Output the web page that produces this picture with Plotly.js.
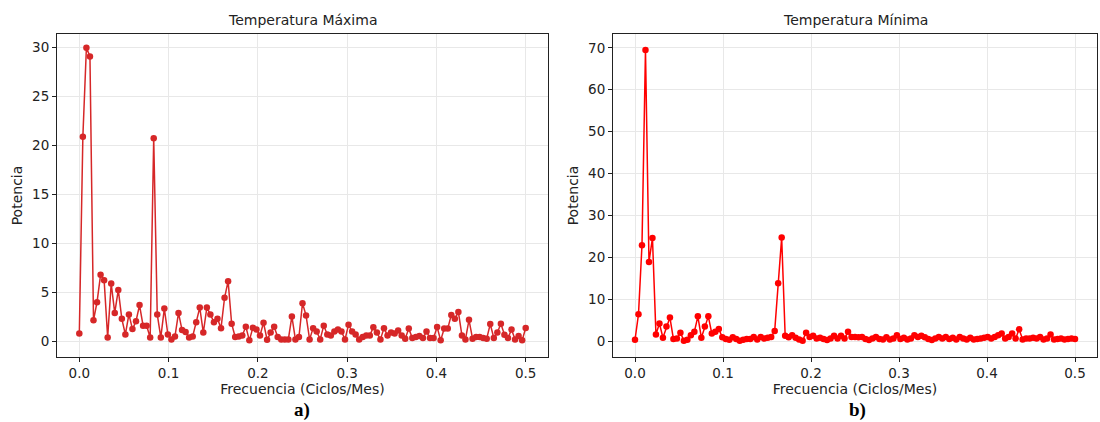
<!DOCTYPE html>
<html>
<head>
<meta charset="utf-8">
<script src="https://cdn.plot.ly/plotly-3.0.1.min.js"></script>
<style>html,body{margin:0;padding:0;background:#fff;}#chart{width:1100px;height:422px;}</style>
</head>
<body>
<div id="chart"></div>
<script>
// Number of samples of the series (frequencies k/N, k = 0..N/2)
const nSamples = 252;

// Power spectrum – Temperatura Máxima
const potenciaMax = [
  0.8, 20.9, 30.0, 29.1, 2.15, 4.0, 6.8, 6.25, 0.4, 5.9,
  2.9, 5.25, 2.3, 0.7, 2.75, 1.25, 2.05, 3.7, 1.6, 1.6,
  0.4, 20.75, 2.75, 0.4, 3.35, 0.7, 0.2, 0.5, 2.9, 1.15,
  0.95, 0.4, 0.5, 1.95, 3.45, 0.9, 3.45, 2.75, 1.95, 2.3,
  1.35, 4.45, 6.15, 1.8, 0.44, 0.5, 0.6, 1.5, 0.1, 1.4,
  1.2, 0.6, 1.9, 0.17, 0.9, 1.5, 0.45, 0.2, 0.2, 0.2,
  2.55, 0.2, 0.45, 3.9, 2.65, 0.2, 1.35, 1.0, 0.2, 1.6,
  0.7, 0.6, 1.0, 1.2, 1.0, 0.2, 1.7, 1.0, 0.7, 0.2,
  0.45, 0.6, 0.6, 1.45, 0.9, 0.2, 1.35, 0.6, 0.9, 0.8,
  1.1, 0.6, 0.27, 1.3, 0.34, 0.44, 0.54, 0.34, 1.0, 0.34,
  0.34, 1.46, 0.1, 1.3, 1.3, 2.7, 2.3, 3.0, 0.6, 0.2,
  2.2, 0.27, 0.44, 0.44, 0.34, 0.27, 1.77, 0.34, 0.9, 1.8,
  0.68, 0.34, 1.2, 0.2, 0.54, 0.1, 1.36
];

// Power spectrum – Temperatura Mínima
const potenciaMin = [
  0.3, 6.4, 22.9, 69.5, 18.9, 24.6, 1.6, 4.2, 0.8, 3.5,
  5.6, 0.5, 0.6, 2.0, 0.1, 0.3, 1.4, 2.2, 5.9, 0.8,
  3.5, 5.9, 1.8, 2.2, 2.9, 0.9, 0.5, 0.3, 0.9, 0.5,
  0.1, 0.3, 0.5, 0.5, 1.0, 0.4, 1.0, 0.6, 0.8, 1.0,
  2.4, 13.8, 24.7, 1.3, 0.9, 1.4, 0.8, 0.4, 0.1, 2.0,
  1.0, 1.3, 0.6, 0.8, 0.5, 0.25, 0.6, 1.3, 0.6, 1.3,
  0.6, 2.2, 1.0, 1.0, 0.9, 1.0, 0.5, 0.25, 0.6, 1.0,
  0.5, 0.4, 0.9, 0.4, 0.6, 1.4, 0.5, 0.8, 0.4, 0.6,
  1.4, 1.0, 1.3, 0.9, 0.5, 0.25, 0.6, 1.0, 0.6, 1.0,
  0.5, 0.8, 0.4, 1.0, 0.6, 0.4, 0.8, 0.4, 0.5, 0.6,
  0.8, 1.0, 0.6, 1.0, 1.4, 1.8, 0.6, 1.0, 1.8, 0.6,
  2.8, 0.4, 0.6, 0.6, 0.8, 0.6, 1.0, 0.4, 0.6, 1.6,
  0.4, 0.5, 0.6, 0.4, 0.5, 0.6, 0.5
];

const frecuenciaMax = potenciaMax.map((_, k) => k / nSamples);
const frecuenciaMin = potenciaMin.map((_, k) => k / nSamples);

const titulos = ["Temperatura Máxima", "Temperatura Mínima"];
const etiquetasPanel = ["a)", "b)"];
const tituloX = "Frecuencia (Ciclos/Mes)";
const tituloY = "Potencia";

const W = 1100, H = 422;
const fontMain = "DejaVu Sans, sans-serif";
const tickFont = {family: fontMain, size: 13.5, color: "#222"};
const labelFont = {family: fontMain, size: 14, color: "#222"};

function xd(a, b) { return [a / W, b / W]; }
function yd(top, bottom) { return [(H - bottom) / H, (H - top) / H]; }

const traces = [
  {x: frecuenciaMax, y: potenciaMax, xaxis: "x", yaxis: "y", mode: "lines+markers",
   line: {color: "#d62728", width: 1.5}, marker: {color: "#d62728", size: 6.5}, hoverinfo: "skip"},
  {x: frecuenciaMin, y: potenciaMin, xaxis: "x2", yaxis: "y2", mode: "lines+markers",
   line: {color: "#ff0000", width: 1.5}, marker: {color: "#ff0000", size: 6.5}, hoverinfo: "skip"}
];

const axBase = {
  showline: true, mirror: true, linecolor: "#222", linewidth: 1,
  showgrid: true, gridcolor: "#e8e8e8", gridwidth: 1,
  zeroline: false, ticks: "outside", ticklen: 4, tickcolor: "#222",
  tickfont: tickFont
};

const layout = {
  width: W, height: H,
  margin: {l: 0, r: 0, t: 0, b: 0},
  paper_bgcolor: "#fff", plot_bgcolor: "#fff",
  showlegend: false,
  xaxis: Object.assign({}, axBase, {domain: xd(57, 548), anchor: "y", range: [-0.025, 0.525],
    tickvals: [0, 0.1, 0.2, 0.3, 0.4, 0.5], tickformat: ".1f",
    title: {text: tituloX, font: labelFont, standoff: 2}}),
  yaxis: Object.assign({}, axBase, {domain: yd(34, 357), anchor: "x", range: [-1.6, 31.4],
    tickvals: [0, 5, 10, 15, 20, 25, 30],
    title: {text: tituloY, font: labelFont, standoff: 6}}),
  xaxis2: Object.assign({}, axBase, {domain: xd(613, 1097), anchor: "y2", range: [-0.025, 0.525],
    tickvals: [0, 0.1, 0.2, 0.3, 0.4, 0.5], tickformat: ".1f",
    title: {text: tituloX, font: labelFont, standoff: 2}}),
  yaxis2: Object.assign({}, axBase, {domain: yd(34, 357), anchor: "x2", range: [-3.8, 73.3],
    tickvals: [0, 10, 20, 30, 40, 50, 60, 70],
    title: {text: tituloY, font: labelFont, standoff: 6}}),
  annotations: [
    {text: titulos[0], x: (57 + 548) / 2 / W, y: (H - 20) / H, xref: "paper", yref: "paper",
     xanchor: "center", yanchor: "middle", showarrow: false, font: labelFont},
    {text: titulos[1], x: (613 + 1097) / 2 / W, y: (H - 20) / H, xref: "paper", yref: "paper",
     xanchor: "center", yanchor: "middle", showarrow: false, font: labelFont},
    {text: "<b>" + etiquetasPanel[0] + "</b>", x: 302 / W, y: (H - 410) / H, xref: "paper", yref: "paper",
     xanchor: "center", yanchor: "middle", showarrow: false,
     font: {family: "Liberation Serif, Times New Roman, serif", size: 19, color: "#000"}},
    {text: "<b>" + etiquetasPanel[1] + "</b>", x: 857 / W, y: (H - 410) / H, xref: "paper", yref: "paper",
     xanchor: "center", yanchor: "middle", showarrow: false,
     font: {family: "Liberation Serif, Times New Roman, serif", size: 19, color: "#000"}}
  ]
};

Plotly.newPlot("chart", traces, layout, {staticPlot: true, displayModeBar: false});
</script>
</body>
</html>
